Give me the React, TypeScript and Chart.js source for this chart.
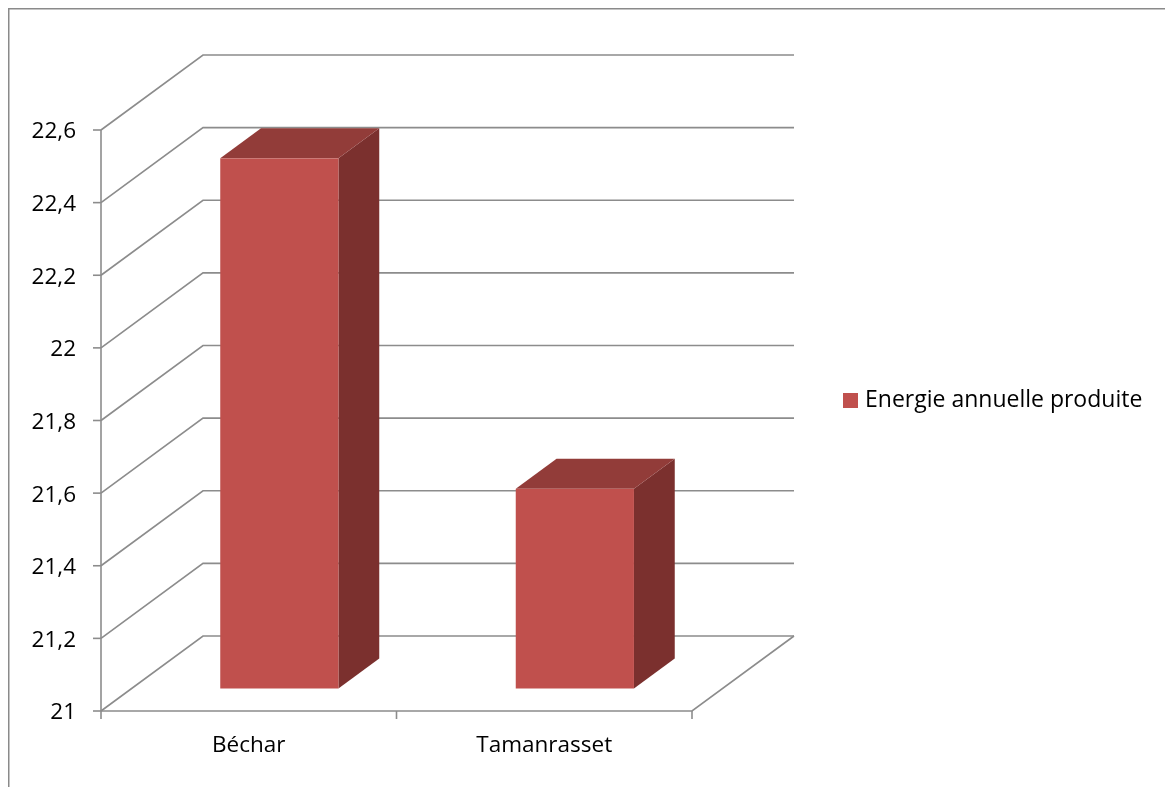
import { useEffect, useRef } from "react";
import { Chart, registerables } from "chart.js";

Chart.register(...registerables);

// Annual energy per site
const categories = ["Béchar", "Tamanrasset"];
const seriesLabel = "Energie annuelle produite";
const energyValues = [22.46, 21.55];

// Value axis
const yMin = 21;
const yMax = 22.6;
const yStep = 0.2;

// Look
const FONT_FAMILY = "'Open Sans', sans-serif";
const FONT_SIZE = 22.5;
const LEGEND_FONT_SIZE = 23;
const FRONT_COLOR = "#C0504D";
const TOP_COLOR = "#923C39";
const SIDE_COLOR = "#7B302E";
const GRID_COLOR = "#8C8C8C";
const FRAME_COLOR = "#8A8A8A";

// Oblique depth of the plot box and where the bars sit inside it
const DEPTH_X = 102;
const DEPTH_Y = -75;
const BAR_NEAR = 0.3;
const BAR_FAR = 0.7;

const formatTick = (v: number | string) =>
  String(Math.round(Number(v) * 10) / 10).replace(".", ",");

const box3d = {
  id: "box3d",
  beforeDraw(chart: any) {
    const { ctx, width, height } = chart;
    ctx.save();
    ctx.fillStyle = "#ffffff";
    ctx.fillRect(0, 0, width, height);
    ctx.strokeStyle = FRAME_COLOR;
    ctx.lineWidth = 1.5;
    ctx.beginPath();
    ctx.moveTo(0.75, height);
    ctx.lineTo(0.75, 0.75);
    ctx.lineTo(width, 0.75);
    ctx.stroke();
    ctx.restore();
  },
  beforeDatasetsDraw(chart: any) {
    const { ctx, chartArea, scales } = chart;
    const { left, right, top, bottom } = chartArea;
    const yScale = scales.y;
    ctx.save();
    ctx.strokeStyle = GRID_COLOR;
    ctx.lineWidth = 1.6;
    ctx.lineJoin = "miter";

    // side wall + back wall gridlines, and value tick marks
    yScale.ticks.forEach((t: any) => {
      const py = yScale.getPixelForValue(t.value);
      ctx.beginPath();
      ctx.moveTo(left, py);
      ctx.lineTo(left + DEPTH_X, py + DEPTH_Y);
      ctx.lineTo(right + DEPTH_X, py + DEPTH_Y);
      ctx.stroke();
      ctx.beginPath();
      ctx.moveTo(left - 8, py);
      ctx.lineTo(left, py);
      ctx.stroke();
    });

    // floor front and right edges
    ctx.beginPath();
    ctx.moveTo(left, bottom);
    ctx.lineTo(right, bottom);
    ctx.lineTo(right + DEPTH_X, bottom + DEPTH_Y);
    ctx.stroke();

    // front value axis
    ctx.beginPath();
    ctx.moveTo(left, top);
    ctx.lineTo(left, bottom + 8);
    ctx.stroke();

    // category boundary ticks
    const n = categories.length;
    const step = (right - left) / n;
    for (let i = 1; i <= n; i++) {
      const x = left + i * step;
      ctx.beginPath();
      ctx.moveTo(x, bottom);
      ctx.lineTo(x, bottom + 8);
      ctx.stroke();
    }

    // 3D bars
    const nx = BAR_NEAR * DEPTH_X;
    const ny = BAR_NEAR * DEPTH_Y;
    const fx = BAR_FAR * DEPTH_X;
    const fy = BAR_FAR * DEPTH_Y;
    const poly = (pts: number[][], color: string) => {
      ctx.beginPath();
      ctx.moveTo(pts[0][0], pts[0][1]);
      for (let i = 1; i < pts.length; i++) ctx.lineTo(pts[i][0], pts[i][1]);
      ctx.closePath();
      ctx.fillStyle = color;
      ctx.fill();
    };
    chart.getDatasetMeta(0).data.forEach((bar: any) => {
      const { x, y, base, width } = bar.getProps(["x", "y", "base", "width"], true);
      const x0 = x - width / 2;
      const x1 = x + width / 2;
      poly(
        [
          [x1 + nx, y + ny],
          [x1 + fx, y + fy],
          [x1 + fx, base + fy],
          [x1 + nx, base + ny],
        ],
        SIDE_COLOR
      );
      poly(
        [
          [x0 + nx, y + ny],
          [x1 + nx, y + ny],
          [x1 + fx, y + fy],
          [x0 + fx, y + fy],
        ],
        TOP_COLOR
      );
      ctx.fillStyle = FRONT_COLOR;
      ctx.fillRect(x0 + nx, y + ny, width, base - y);
    });
    ctx.restore();
    return false;
  },
  afterDraw(chart: any) {
    const { ctx, chartArea } = chart;
    const ds = chart.data.datasets[0];
    const bx = chartArea.right + 151;
    const cy = (chartArea.top + chartArea.bottom) / 2 - 20;
    ctx.save();
    ctx.fillStyle = ds.backgroundColor;
    ctx.fillRect(bx, cy - 7.5, 15, 15);
    ctx.fillStyle = "#000000";
    ctx.font = `${LEGEND_FONT_SIZE}px ${FONT_FAMILY}`;
    ctx.textBaseline = "middle";
    ctx.textAlign = "left";
    ctx.fillText(ds.label, bx + 22, cy);
    ctx.restore();
  },
};

export default function App() {
  const canvasRef = useRef<HTMLCanvasElement | null>(null);

  useEffect(() => {
    if (!canvasRef.current) return;
    const chart = new Chart(canvasRef.current, {
      type: "bar",
      data: {
        labels: categories,
        datasets: [
          {
            label: seriesLabel,
            data: energyValues,
            base: yMin,
            backgroundColor: FRONT_COLOR,
            categoryPercentage: 1,
            barPercentage: 0.4,
          },
        ],
      },
      options: {
        responsive: false,
        animation: false,
        devicePixelRatio: 1,
        layout: { padding: { left: 0, top: 122, right: 473, bottom: 16 } },
        plugins: {
          legend: { display: false },
          tooltip: { enabled: false },
        },
        scales: {
          x: {
            offset: true,
            grid: { display: false, drawTicks: false },
            border: { display: false },
            ticks: {
              color: "#000000",
              padding: 21,
              font: { family: FONT_FAMILY, size: FONT_SIZE },
            },
            afterFit: (s: any) => {
              s.height = 60;
            },
          },
          y: {
            min: yMin,
            max: yMax,
            grid: { display: false, drawTicks: false },
            border: { display: false },
            ticks: {
              stepSize: yStep,
              color: "#000000",
              padding: 25,
              labelOffset: 2,
              font: { family: FONT_FAMILY, size: FONT_SIZE },
              callback: (v: any) => formatTick(v),
            },
            afterFit: (s: any) => {
              s.width = 93;
            },
          },
        },
      },
      plugins: [box3d],
    });
    return () => chart.destroy();
  }, []);

  return (
    <div style={{ position: "fixed", left: 8, top: 8 }}>
      <canvas
        ref={canvasRef}
        width={1157}
        height={779}
        style={{ display: "block", width: 1157, height: 779 }}
      />
    </div>
  );
}
